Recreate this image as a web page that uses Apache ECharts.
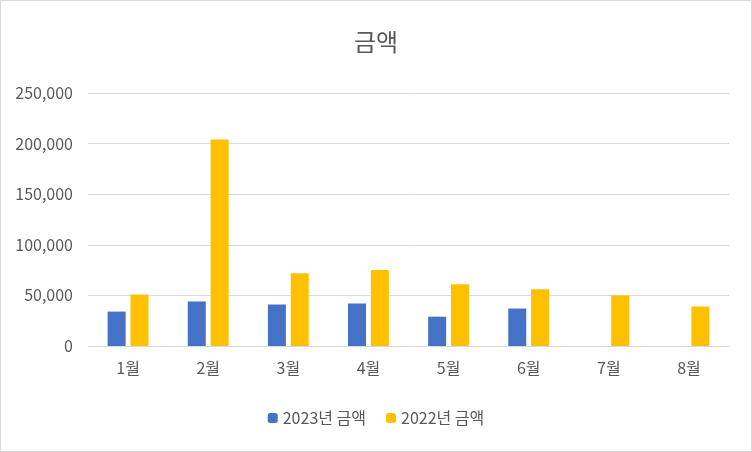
<!DOCTYPE html><html><head><meta charset="utf-8"><script src="https://cdn.jsdelivr.net/npm/echarts@6/dist/echarts.min.js"></script>
<style>html,body{margin:0;padding:0;background:#fff}#c{width:750px;height:450px;border:1px solid #d9d9d9}</style></head><body><div id="c"></div><script>
const categories=['1월','2월','3월','4월','5월','6월','7월','8월'];
const s2023=[34000,44000,41000,42000,29000,37000,null,null];
const s2022=[51000,204000,72000,75000,61000,56000,50000,39000];
const chart=echarts.init(document.getElementById('c'));
const font='"Noto Sans CJK KR", sans-serif';
chart.setOption({
 animation:false,
 title:{text:'금액',left:'center',top:24,textStyle:{fontFamily:font,fontSize:24,fontWeight:'normal',color:'#595959'}},
 grid:{left:87,right:22,top:92,bottom:105},
 legend:{bottom:20,itemWidth:10,itemHeight:10,itemGap:20,textStyle:{fontFamily:font,fontSize:16,color:'#595959'},data:['2023년 금액','2022년 금액']},
 xAxis:{type:'category',data:categories,axisTick:{show:false},axisLine:{lineStyle:{color:'#d9d9d9'}},axisLabel:{fontFamily:font,fontSize:16,color:'#595959',margin:14}},
 yAxis:{type:'value',min:0,max:250000,interval:50000,axisLabel:{fontFamily:font,fontSize:16,color:'#595959',margin:15},splitLine:{lineStyle:{color:'#d9d9d9'}}},
 series:[
  {name:'2023년 금액',type:'bar',data:s2023,itemStyle:{color:'#4472C4'},barWidth:18,barGap:'27%'},
  {name:'2022년 금액',type:'bar',data:s2022,itemStyle:{color:'#FFC000'},barWidth:18}
 ]
});
</script></body></html>
